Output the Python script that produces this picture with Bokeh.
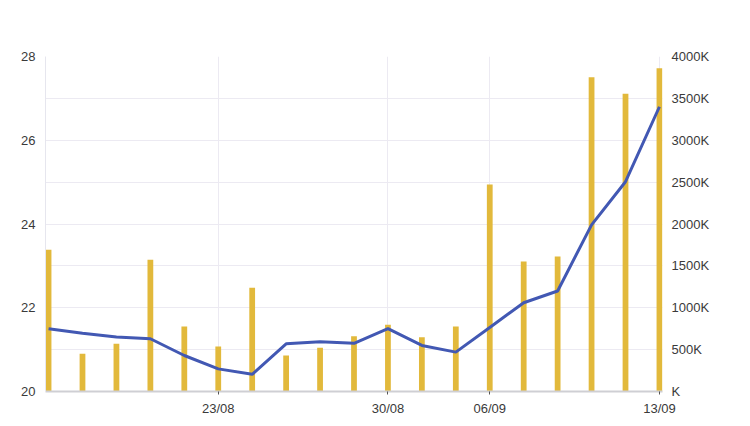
from bokeh.plotting import figure
from bokeh.models import Range1d, LinearAxis, FixedTicker, CustomJSTickFormatter
from bokeh.embed import file_html
from bokeh.resources import INLINE

# Data
idx = list(range(19))
line_vals = [21.50, 21.39, 21.30, 21.26, 20.86, 20.54, 20.41, 21.14, 21.19, 21.15,
             21.50, 21.10, 20.94, 21.53, 22.12, 22.40, 23.98, 25.01, 26.80]
bar_vals_k = [1692, 450, 570, 1573, 776, 537, 1238, 430, 522, 660,
              797, 648, 776, 2472, 1552, 1612, 3753, 3554, 3860]
x_tick_pos = [5, 10, 13, 18]
x_tick_labels = ["23/08", "30/08", "06/09", "13/09"]
left_ticks = [20, 22, 24, 26, 28]
grid_ticks = [20, 21, 22, 23, 24, 25, 26, 27, 28]
right_ticks = [0, 500, 1000, 1500, 2000, 2500, 3000, 3500, 4000]

FONT = "Liberation Sans"
LABEL_COLOR = "#3a3a3a"
GRID = "#ECEAF2"

p = figure(width=742, height=418, output_backend="svg", toolbar_location=None,
           x_range=Range1d(-0.09, 18.09), y_range=Range1d(20, 28),
           min_border_left=45, min_border_right=80, min_border_top=56, min_border_bottom=27)
p.outline_line_color = None
p.background_fill_color = "white"
p.border_fill_color = "white"

p.extra_y_ranges = {"vol": Range1d(0, 4000)}

# grids
p.ygrid[0].ticker = FixedTicker(ticks=grid_ticks)
p.ygrid[0].grid_line_color = GRID
p.ygrid[0].grid_line_width = 1
p.xgrid[0].ticker = FixedTicker(ticks=x_tick_pos)
p.xgrid[0].grid_line_color = GRID
p.xgrid[0].grid_line_width = 1

# bars on right axis
p.vbar(x=idx, top=bar_vals_k, width=0.17, bottom=0, y_range_name="vol",
       fill_color="#E2B93B", line_color=None)
# line on left axis
p.line(idx, line_vals, line_color="#4258B3", line_width=3)

# left axis
la = p.yaxis[0]
la.ticker = FixedTicker(ticks=left_ticks)
la.major_tick_line_color = None
la.minor_tick_line_color = None
la.axis_line_color = "#E6E6EE"
la.major_label_standoff = 4
la.major_label_text_font = FONT
la.major_label_text_font_size = "13px"
la.major_label_text_color = LABEL_COLOR

# right axis
ra = LinearAxis(y_range_name="vol")
ra.ticker = FixedTicker(ticks=right_ticks)
ra.formatter = CustomJSTickFormatter(code="return tick == 0 ? 'K' : tick + 'K';")
ra.major_tick_line_color = None
ra.minor_tick_line_color = None
ra.axis_line_color = None
ra.major_label_standoff = 3
ra.major_label_text_font = FONT
ra.major_label_text_font_size = "13px"
ra.major_label_text_color = LABEL_COLOR
p.add_layout(ra, "right")

# bottom axis
xa = p.xaxis[0]
xa.ticker = FixedTicker(ticks=x_tick_pos)
xa.major_label_overrides = {pos: lab for pos, lab in zip(x_tick_pos, x_tick_labels)}
xa.major_tick_out = 3
xa.major_tick_in = 0
xa.major_tick_line_color = "#555555"
xa.minor_tick_line_color = None
xa.axis_line_color = "#CFCFD4"
xa.axis_line_width = 2
xa.major_label_standoff = 6
xa.major_label_text_font = FONT
xa.major_label_text_font_size = "13px"
xa.major_label_text_color = LABEL_COLOR

open("out.html", "w").write(file_html(p, INLINE))
